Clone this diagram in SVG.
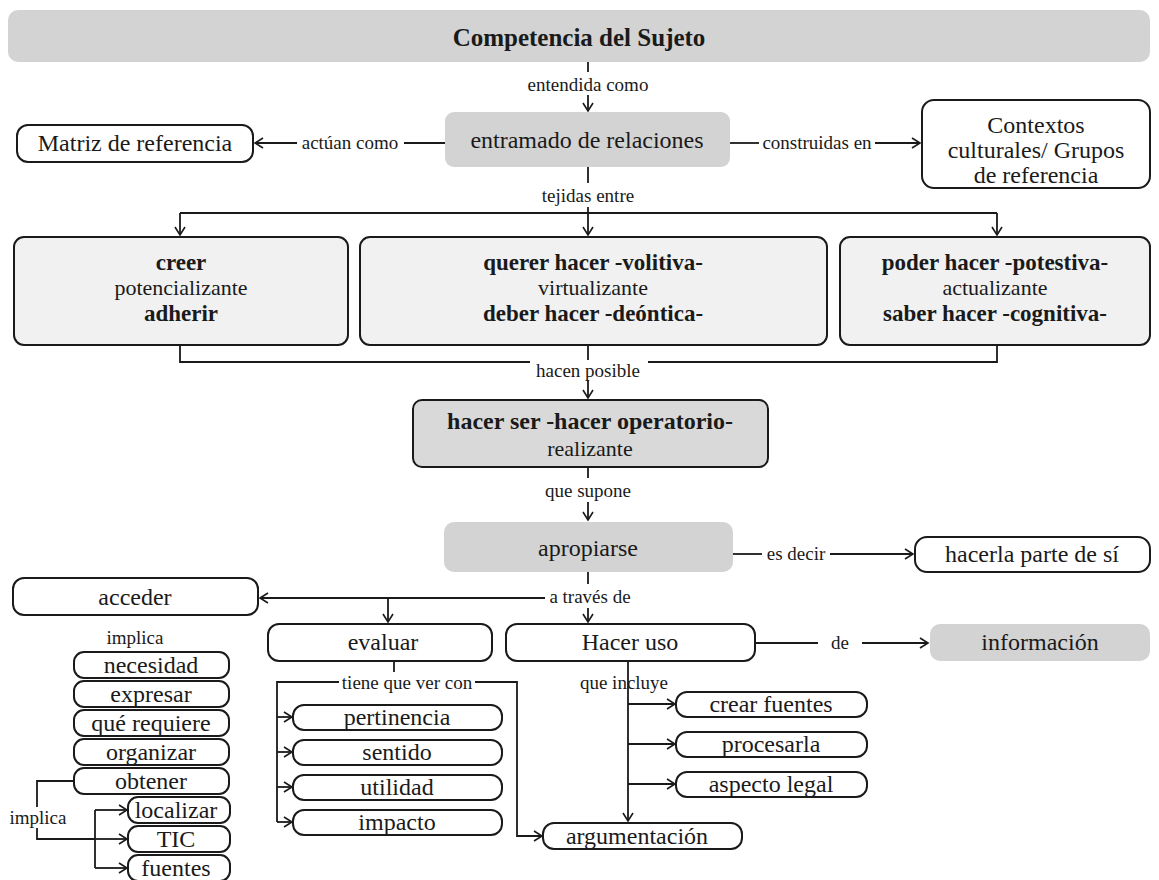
<svg xmlns="http://www.w3.org/2000/svg" width="1159" height="880" viewBox="0 0 1159 880" font-family="'Liberation Serif', 'Times New Roman', serif">
<defs>
<marker id="ah" markerUnits="userSpaceOnUse" markerWidth="12" markerHeight="12" refX="9" refY="6" orient="auto" overflow="visible">
<path d="M1,1 L9,6 L1,11" fill="none" stroke="#1a1a1a" stroke-width="1.6"/>
</marker>
<style>
.box{fill:#fff;stroke:#1a1a1a;stroke-width:2}
.gray{fill:#d3d3d3}
.lg{fill:#f1f1f1;stroke:#1a1a1a;stroke-width:2}
.mg{fill:#d9d9d9;stroke:#1a1a1a;stroke-width:2}
text{font-family:"Liberation Serif","Times New Roman",serif;fill:#1a1a1a;text-anchor:middle;dominant-baseline:central}
.t{font-size:24px}
.s{font-size:23px}
.b{font-weight:bold}
.r{font-size:22px}
.lab{font-size:19px}
#connectors path{stroke:#1a1a1a;stroke-width:1.8;fill:none}
.a{marker-end:url(#ah)}
</style>
</defs>
<rect width="1159" height="880" fill="#fff"/>

<g id="connectors">
<path d="M588,62 V72"/>
<path class="a" d="M588,95 V111"/>
<path d="M445,143 H404"/>
<path class="a" d="M297,143 H255"/>
<path d="M730,143 H759"/>
<path class="a" d="M875,143 H920"/>
<path d="M588,167 V183"/>
<path d="M588,207 V213"/>
<path d="M180,213 H997"/>
<path class="a" d="M180,213 V235"/>
<path class="a" d="M588,213 V235"/>
<path class="a" d="M997,213 V235"/>
<path d="M180,345 V362 H530"/>
<path d="M648,362 H997 V345"/>
<path d="M588,345 V360"/>
<path class="a" d="M588,380 V398"/>
<path d="M588,467 V478"/>
<path class="a" d="M588,502 V520"/>
<path d="M733,554 H762"/>
<path class="a" d="M830,554 H913"/>
<path d="M588,572 V584"/>
<path class="a" d="M545,598 H260"/>
<path class="a" d="M388,598 V622"/>
<path class="a" d="M588,608 V622"/>
<path d="M755,643 H818"/>
<path class="a" d="M862,643 H928"/>
<path d="M74,781 H37 V807"/>
<path d="M37,828 V839 H95"/>
<path d="M95,810 V868"/>
<path class="a" d="M95,810 H127"/>
<path class="a" d="M95,839 H127"/>
<path class="a" d="M95,868 H127"/>
<path d="M394,661 V672"/>
<path d="M339,682 H277 V822"/>
<path class="a" d="M277,717 H292"/>
<path class="a" d="M277,752 H292"/>
<path class="a" d="M277,787 H292"/>
<path class="a" d="M277,822 H292"/>
<path class="a" d="M475,682 H517 V836 H542"/>
<path class="a" d="M628,650 V821"/>
<path class="a" d="M628,704 H675"/>
<path class="a" d="M628,744 H675"/>
<path class="a" d="M628,784 H675"/>
</g>

<g id="labels">
<text class="lab" x="588" y="84">entendida como</text>
<text class="lab" x="350" y="142">actúan como</text>
<text class="lab" x="817" y="142">construidas en</text>
<text class="lab" x="588" y="195">tejidas entre</text>
<text class="lab" x="588" y="370">hacen posible</text>
<text class="lab" x="588" y="490">que supone</text>
<text class="lab" x="796" y="553">es decir</text>
<text class="lab" x="590" y="596">a través de</text>
<text class="lab" x="840" y="642">de</text>
<text class="lab" x="135" y="637">implica</text>
<text class="lab" x="38" y="817">implica</text>
<text class="lab" x="407" y="682">tiene que ver con</text>
<text class="lab" x="624" y="682">que incluye</text>
</g>

<g id="competencia"><rect class="gray" x="8" y="10" width="1142" height="52" rx="10"/><text class="b" style="font-size:25px" x="579" y="37">Competencia del Sujeto</text></g>
<g id="entramado"><rect class="gray" x="445" y="112" width="285" height="55" rx="9"/><text class="t" x="587" y="140">entramado de relaciones</text></g>
<g id="matriz"><rect class="box" x="17" y="125" width="236" height="37" rx="11"/><text class="t" x="135" y="143">Matriz de referencia</text></g>
<g id="contextos"><rect class="box" x="922" y="100" width="228" height="88" rx="12"/><text class="t" x="1036" y="125">Contextos</text><text class="t" x="1036" y="150">culturales/ Grupos</text><text class="t" x="1036" y="175">de referencia</text></g>

<g id="creer"><rect class="lg" x="14" y="237" width="334" height="108" rx="10"/><text class="s b" x="181" y="262">creer</text><text class="r" x="181" y="287">potencializante</text><text class="s b" x="181" y="313">adherir</text></g>
<g id="querer"><rect class="lg" x="360" y="237" width="467" height="108" rx="10"/><text class="s b" x="593" y="262">querer hacer -volitiva-</text><text class="r" x="593" y="287">virtualizante</text><text class="s b" x="593" y="313">deber hacer -deóntica-</text></g>
<g id="poder"><rect class="lg" x="840" y="237" width="310" height="108" rx="10"/><text class="s b" x="995" y="262">poder hacer -potestiva-</text><text class="r" x="995" y="287">actualizante</text><text class="s b" x="995" y="313">saber hacer -cognitiva-</text></g>

<g id="hacerser"><rect class="mg" x="413" y="400" width="355" height="67" rx="9"/><text class="b" style="font-size:24px" x="590" y="421">hacer ser -hacer operatorio-</text><text class="r" x="590" y="448">realizante</text></g>
<g id="apropiarse"><rect class="gray" x="444" y="522" width="289" height="50" rx="10"/><text class="t" x="588" y="548">apropiarse</text></g>
<g id="hacerla"><rect class="box" x="915" y="537" width="235" height="35" rx="12"/><text class="t" x="1032" y="554">hacerla parte de sí</text></g>

<g id="acceder"><rect class="box" x="13" y="578" width="245" height="37" rx="11"/><text class="t" x="135" y="597">acceder</text></g>
<g id="evaluar"><rect class="box" x="268" y="624" width="224" height="37" rx="11"/><text class="t" x="383" y="642">evaluar</text></g>
<g id="haceruso"><rect class="box" x="506" y="624" width="249" height="37" rx="11"/><text class="t" x="630" y="642">Hacer uso</text></g>
<g id="informacion"><rect class="gray" x="930" y="624" width="220" height="37" rx="10"/><text class="t" x="1040" y="642">información</text></g>

<g id="necesidad"><rect class="box" x="74" y="652" width="155" height="26" rx="10"/><text class="t" x="151" y="665">necesidad</text></g>
<g id="expresar"><rect class="box" x="74" y="681" width="155" height="26" rx="10"/><text class="t" x="151" y="694">expresar</text></g>
<g id="querequiere"><rect class="box" x="74" y="710" width="155" height="26" rx="10"/><text class="t" x="151" y="723">qué requiere</text></g>
<g id="organizar"><rect class="box" x="74" y="739" width="155" height="26" rx="10"/><text class="t" x="151" y="752">organizar</text></g>
<g id="obtener"><rect class="box" x="74" y="768" width="155" height="26" rx="10"/><text class="t" x="151" y="781">obtener</text></g>
<g id="localizar"><rect class="box" x="128" y="797" width="102" height="26" rx="10"/><text class="t" x="176" y="810">localizar</text></g>
<g id="tic"><rect class="box" x="128" y="826" width="102" height="26" rx="10"/><text class="t" x="176" y="839">TIC</text></g>
<g id="fuentes"><rect class="box" x="128" y="855" width="102" height="26" rx="10"/><text class="t" x="176" y="868">fuentes</text></g>

<g id="pertinencia"><rect class="box" x="293" y="705" width="209" height="25" rx="11"/><text class="t" x="397" y="717">pertinencia</text></g>
<g id="sentido"><rect class="box" x="293" y="740" width="209" height="25" rx="11"/><text class="t" x="397" y="752">sentido</text></g>
<g id="utilidad"><rect class="box" x="293" y="775" width="209" height="25" rx="11"/><text class="t" x="397" y="787">utilidad</text></g>
<g id="impacto"><rect class="box" x="293" y="810" width="209" height="25" rx="11"/><text class="t" x="397" y="822">impacto</text></g>
<g id="argumentacion"><rect class="box" x="543" y="823" width="199" height="26" rx="11"/><text class="t" x="637" y="836">argumentación</text></g>

<g id="crearfuentes"><rect class="box" x="676" y="692" width="191" height="25" rx="11"/><text class="t" x="771" y="704">crear fuentes</text></g>
<g id="procesarla"><rect class="box" x="676" y="732" width="191" height="25" rx="11"/><text class="t" x="771" y="744">procesarla</text></g>
<g id="aspectolegal"><rect class="box" x="676" y="772" width="191" height="25" rx="11"/><text class="t" x="771" y="784">aspecto legal</text></g>
</svg>
